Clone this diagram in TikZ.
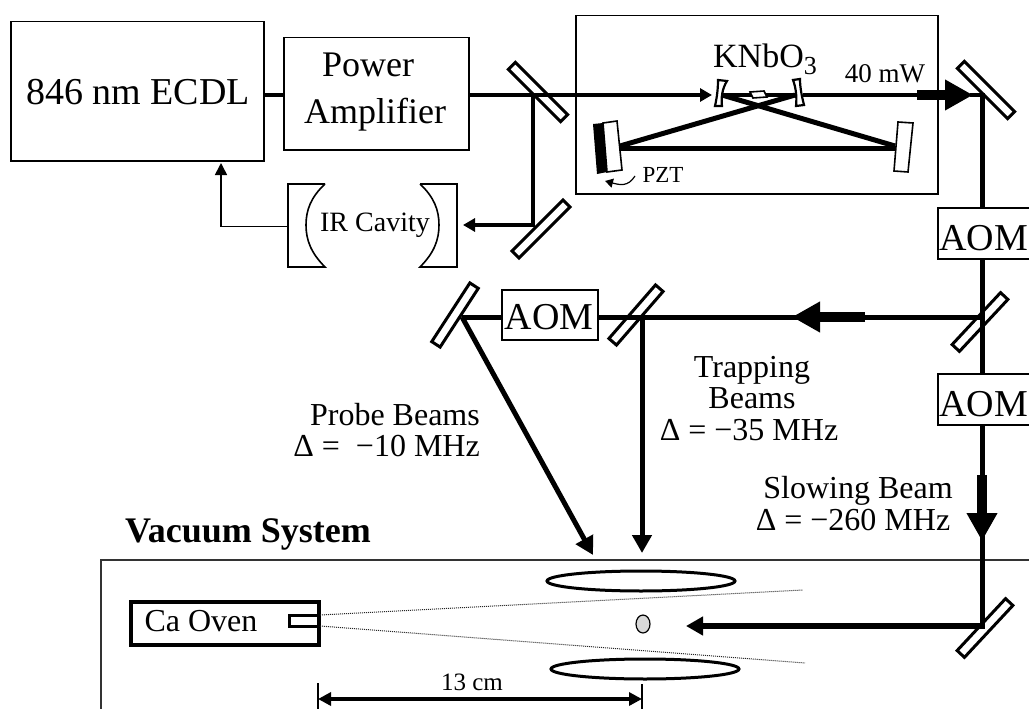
\documentclass[tikz,border=0pt]{standalone}
\usepackage{fontspec}
\setmainfont{Liberation Serif}
\usetikzlibrary{arrows.meta,shapes.geometric}
\newcommand{\fs}[1]{\fontsize{#1}{#1}\selectfont}
\tikzset{
  box/.style={draw=black,line width=1.5pt,fill=white,inner sep=0pt,anchor=north west},
  mirror/.style={draw=black,line width=3pt,fill=white,minimum height=10pt,inner sep=0pt},
  beam/.style={line width=5pt,draw=black},
  thinbeam/.style={line width=4.5pt,draw=black},
  fathead/.style={line width=10pt,draw=black,-{Triangle[length=28pt,width=29pt]}},
  midhead/.style={line width=5pt,draw=black,-{Triangle[length=18pt,width=19pt]}},
  smallhead/.style={line width=4pt,draw=black,-{Triangle[length=12pt,width=13pt]}},
  lbl/.style={inner sep=0pt,align=center},
  fanline/.style={line width=1pt,dash pattern=on 1pt off 1pt,draw=black!85},
  lens/.style={draw=black,line width=3pt,fill=white,ellipse,inner sep=0pt},
}
\begin{document}
\begin{tikzpicture}[x=1pt,y=-1pt]
\useasboundingbox (0,0) rectangle (1029,709);
\clip (0,0) rectangle (1029,709);
\fill[white] (0,0) rectangle (1029,709);
% boxes
\node[box,minimum width=253pt,minimum height=139pt] (ecdl) at (10,21) {};
\node[lbl,font=\fs{38}] at (138,92) {846 nm ECDL};
\node[box,minimum width=185pt,minimum height=112pt] (pa) at (283,37) {};
\node[lbl,font=\fs{36},anchor=base] at (368,77) {Power};
\node[lbl,font=\fs{36},anchor=base] (amp) at (375,123) {Amplifier};
\node[box,minimum width=362pt,minimum height=178pt] (shg) at (575,15) {};
\node[box,minimum width=110pt,minimum height=51pt] (aom1) at (937,207) {};
\node[box,minimum width=110pt,minimum height=51pt] (aom2) at (937,373) {};
\node[box,minimum width=96pt,minimum height=50pt] (aom3) at (501,289) {};
\node[lbl,font=\fs{38},anchor=base west] at (939,250) {AOM};
\node[lbl,font=\fs{38},anchor=base west] at (939,416) {AOM};
\node[lbl,font=\fs{38},anchor=base] at (549,329) {AOM};
% vacuum
\node[draw=black!80,line width=1.5pt,inner sep=0pt,anchor=north west,minimum width=1000pt,minimum height=200pt] (vac) at (100,559) {};
\node[lbl,font=\fs{36}\bfseries,anchor=base west] at (125,542) {Vacuum System};
% mirrors
\node[mirror,rotate=-45,minimum width=74pt] (m1) at (538,92) {};
\node[mirror,rotate=45,minimum width=72pt] (m2) at (541,229) {};
\node[mirror,rotate=-45,minimum width=71pt] (mT) at (986,90) {};
\node[mirror,rotate=47,minimum width=71pt] (mR) at (980,322) {};
\node[mirror,rotate=49,minimum width=71pt] (mM) at (636,315) {};
\node[mirror,rotate=57,minimum width=70pt] (mL) at (455,315) {};
\node[mirror,rotate=47,minimum width=71pt] (mB) at (985,628) {};
% coordinates
\coordinate (j1) at (533,95);
\coordinate (j2) at (533,225);
\coordinate (irIn) at (463,225);
\coordinate (shgIn) at (712,95);
\coordinate (corner) at (982,95);
\coordinate (jR) at (982,317);
\coordinate (jM) at (642,317);
\coordinate (jL) at (462,317);
\coordinate (jB) at (982,626);
% top beams
\draw[thinbeam] (ecdl.east |- 0,95) -- (pa.west |- 0,95);
\draw[thinbeam] (470,95) -- (695,95);
\draw[smallhead] (690,95) -- (shgIn);
\draw[line width=4.5pt] (j1) -- (533,227.2) (535,225) -- (478,225);
\draw[smallhead] (478,225) -- (irIn);
% IR cavity
\node[lbl,font=\fs{28}] (ir) at (375,225) {IR Cavity};
\draw[line width=1.6pt] (325,184) -- (288,184) -- (288,267) -- (325,267) .. controls (311,253) and (306,240) .. (306,225) .. controls (306,210) and (311,197) .. (325,184);
\draw[line width=1.6pt] (420,184) -- (457,184) -- (457,267) -- (420,267) .. controls (434,253) and (439,240) .. (439,225) .. controls (439,210) and (434,197) .. (420,184);
\coordinate (irL) at (288,226.5);
\coordinate (ecdlB) at (221,163);
\draw[line width=1.6pt,-{Triangle[length=12pt,width=12pt]}] (irL) -- (221,226.5) -- (ecdlB);
% SHG cavity
\draw[line width=5pt] (722,95) -- (895,146);
\draw[line width=5pt] (795,95) -- (620,146);
\draw[line width=5pt] (620,148) -- (895,148);
\draw[line width=3.5pt] (722,95) -- (795,95);
\draw[line width=1.6pt,fill=white] (750,92) -- (764,91) -- (767,97) -- (753,98) -- cycle;
\draw[line width=2.2pt,fill=white] (718,80) -- (727,81) .. controls (722,89) and (721,98) .. (722,106) -- (715,106) .. controls (717,97) and (718,89) .. (718,80) -- cycle;
\draw[line width=2.2pt,fill=white] (793,80) -- (800,79) .. controls (800,88) and (802,97) .. (804,105) -- (796,106) .. controls (797,97) and (796,88) .. (793,80) -- cycle;
\draw[line width=1.6pt,fill=white] (603,123) -- (617,121) -- (622,170) -- (607,172) -- cycle;
\fill[black] (593,124) -- (603,123) -- (607,172) -- (597,174) -- cycle;
\draw[line width=1.6pt,fill=white] (898,122) -- (913,123) -- (908,172) -- (894,171) -- cycle;
\node[lbl,font=\fs{34},anchor=base] (kn) at (765,67) {KNbO\raisebox{-7pt}{\fs{26}3}};
\node[lbl,font=\fs{27},anchor=base] (mw) at (885,83) {40 mW};
\node[lbl,font=\fs{23},anchor=base] (pzt) at (663,182) {PZT};
\draw[line width=1.2pt,-{Triangle[length=8pt,width=9pt]}] (635,176) .. controls (628,187) and (620,185) .. (605,181);
% output
\draw[thinbeam] (803,95) -- (920,95);
\draw[fathead] (917,95) -- (973,95);
\draw[thinbeam] (970,95) -- (corner);
\draw[beam] (982,92.8) -- (aom1.north -| corner);
\draw[beam] (aom1.south -| corner) -- (jR) -- (aom2.north -| corner);
% horizontal
\draw[beam] (jR) -- (860,317);
\draw[fathead] (865,317) -- (792,317);
\draw[beam] (800,317) -- (aom3.east |- jR);
\draw[beam] (aom3.west |- jR) -- (jL);
% trapping and probe
\draw[midhead] (jM) -- (642,553);
\draw[midhead] (jL) -- (593,555);
% slowing
\draw[beam] (aom2.south -| corner) -- (982,480);
\draw[fathead] (982,475) -- (982,541);
\draw[beam] (982,535) -- (982,629);
\draw[line width=6pt,-{Triangle[length=17pt,width=18pt]}] (jB) -- (686,626);
% labels
\node[lbl,font=\fs{32},anchor=base east] at (480,425) {Probe Beams};
\node[lbl,font=\fs{32},anchor=base east] at (480,456) {Δ = \hspace{8pt}−10 MHz};
\node[lbl,font=\fs{32},anchor=base] at (752,377) {Trapping};
\node[lbl,font=\fs{32},anchor=base] at (752,408) {Beams};
\node[lbl,font=\fs{32},anchor=base] at (749,440) {Δ = −35 MHz};
\node[lbl,font=\fs{32},anchor=base] at (858,498) {Slowing Beam};
\node[lbl,font=\fs{32},anchor=base] at (853,530) {Δ = −260 MHz};
% oven
\node[box,line width=4pt,minimum width=188pt,minimum height=43pt] (oven) at (129,600) {};
\node[lbl,font=\fs{32}] at (201,621) {Ca Oven};
\node[draw=black,line width=3.5pt,fill=white,inner sep=0pt,minimum width=29pt,minimum height=11pt] (noz) at (304,621) {};
\coordinate (fanA) at (803,590);
\coordinate (fanB) at (805,663);
\draw[fanline] (320,615) -- (fanA);
\draw[fanline] (320,626) -- (fanB);
% lenses, atoms
\node[lens,minimum width=188pt,minimum height=20pt] (lensT) at (641,581) {};
\node[lens,minimum width=188pt,minimum height=20pt] (lensB) at (645,669) {};
\node[draw=black,line width=1.2pt,fill=black!15,ellipse,inner sep=0pt,minimum width=14pt,minimum height=18pt] (atom) at (643,624) {};
% dimension
\coordinate (dimL) at (318,699);
\coordinate (dimR) at (642,699);
\draw[line width=1.5pt] (318,683) -- (318,709);
\draw[line width=1.5pt] (642,684) -- (642,709);
\draw[line width=4pt,{Triangle[length=13pt,width=13pt]}-{Triangle[length=13pt,width=13pt]}] (dimL) -- (dimR);
\node[lbl,font=\fs{25},anchor=base] at (472,690) {13 cm};
\end{tikzpicture}
\end{document}
